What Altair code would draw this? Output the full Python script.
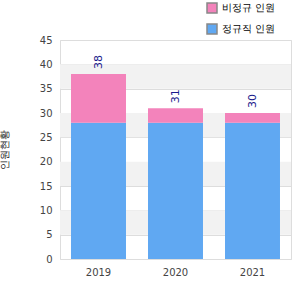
import altair as alt
import pandas as pd

years = ["2019", "2020", "2021"]
regular = [28, 28, 28]
nonregular = [10, 3, 2]
totals = [38, 31, 30]
series_names = ["비정규 인원", "정규직 인원"]
series_colors = ["#F383BB", "#60A8F2"]
band_starts = [5, 15, 25, 35]
band_ends = [10, 20, 30, 40]
y_title = "인원현황"

rows = []
for y, r, n in zip(years, regular, nonregular):
    rows.append({"year": y, "series": series_names[1], "value": r, "ord": 0})
    rows.append({"year": y, "series": series_names[0], "value": n, "ord": 1})
df = pd.DataFrame(rows)
tot = pd.DataFrame({"year": years, "total": totals})
bands = pd.DataFrame({"y0": band_starts, "y1": band_ends})

FONT = "DejaVu Sans"
yscale = alt.Scale(domain=[0, 45], nice=False)
yaxis = alt.Axis(tickCount=10, ticks=False, domain=False,
                 labelOverlap=False, labelFlush=False,
                 gridColor="#dddddd", labelFont=FONT, labelFontSize=10,
                 labelColor="#444", labelPadding=8, titleFont=FONT,
                 titleFontSize=10, titleFontWeight="normal", titleColor="#222",
                 titlePadding=30)

bg = alt.Chart(bands).mark_rect(color="#f2f2f2").encode(
    y=alt.Y("y0:Q", scale=yscale, axis=yaxis, title=y_title),
    y2="y1:Q",
    x=alt.value(0),
    x2=alt.value(231),
)

bars = alt.Chart(df).mark_bar().encode(
    x=alt.X("year:N", title=None,
            scale=alt.Scale(paddingInner=0.286, paddingOuter=0.143),
            axis=alt.Axis(labelAngle=0, ticks=False, domain=False, labelFont=FONT,
                          labelFontSize=10, labelColor="#444", labelPadding=8)),
    y=alt.Y("value:Q", stack="zero", scale=yscale, title=y_title, axis=yaxis),
    color=alt.Color("series:N", scale=alt.Scale(domain=series_names, range=series_colors),
                    legend=alt.Legend(title=None, orient="none", legendX=146, legendY=-38,
                                      symbolType="square", symbolSize=100,
                                      symbolStrokeColor="#888", symbolStrokeWidth=1.5,
                                      labelFont=FONT, labelFontSize=10, labelColor="#000",
                                      rowPadding=5)),
    order=alt.Order("ord:Q"),
)

labels = alt.Chart(tot).mark_text(angle=270, align="left", baseline="middle", dx=5,
                                  font=FONT, fontSize=11, color="#1a1a8c").encode(
    x=alt.X("year:N"),
    y=alt.Y("total:Q", scale=yscale),
    text="total:Q",
)

chart = alt.layer(bg, bars, labels).properties(
    width=231, height=219,
    autosize=alt.AutoSizeParams(type="none"),
    padding={"left": 60, "top": 40, "right": 9, "bottom": 41},
).configure_view(stroke="#dddddd").configure(background="white")

chart.save("out.html", embed_options={"renderer": "svg", "actions": False})
